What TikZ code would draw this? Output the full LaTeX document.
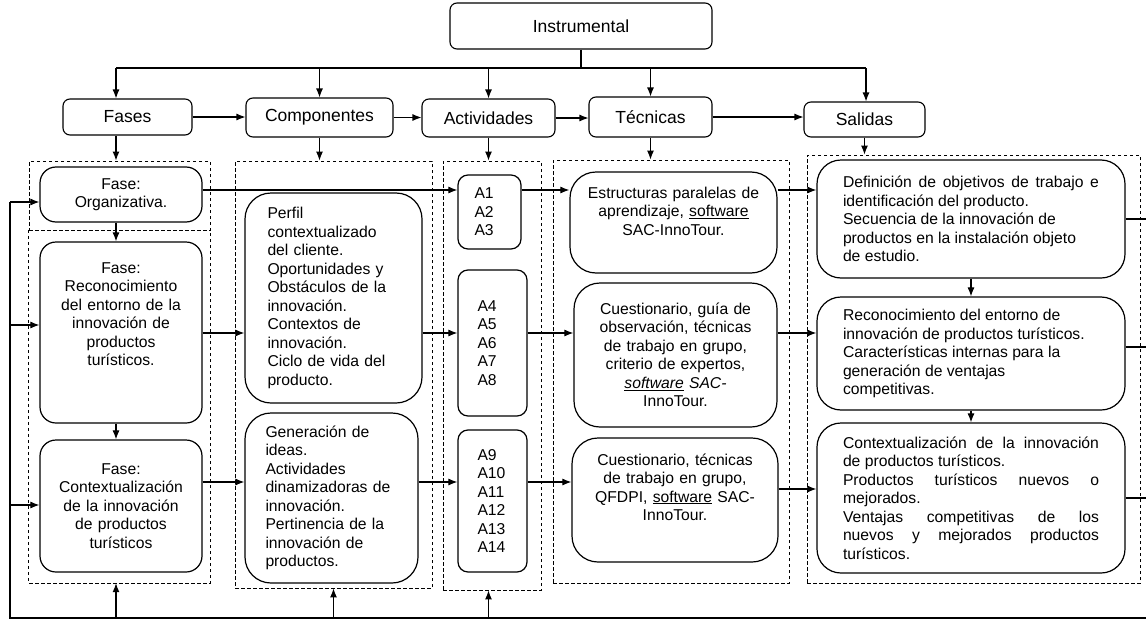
\documentclass[tikz,border=0pt]{standalone}
\usepackage{fontspec}
\setmainfont{Liberation Sans}
\usetikzlibrary{arrows.meta}
\tikzset{>={Latex[length=9pt,width=7pt]}}
\newcommand{\txtfont}{\fontsize{15.7}{18.5}\selectfont}
\newcommand{\headfont}{\fontsize{17.5}{20}\selectfont}
\tikzset{
  head/.style={draw, line width=1.1pt, rounded corners=7pt, font=\headfont, inner sep=0pt},
  box/.style={draw, line width=1.2pt, rounded corners=#1, font=\txtfont, inner sep=0pt},
  box/.default=16pt,
  dashline/.style={line width=0.9pt, dash pattern=on 3.5pt off 2.5pt},
  grp/.style={draw, dashline, inner sep=0pt},
  sz/.style 2 args={minimum width=#1, minimum height=#2},
  conn/.style={->, line width=1.1pt},
  wire/.style={line width=1.1pt}
}

\begin{document}
\begin{tikzpicture}[x=1pt, y=-1pt]
\useasboundingbox (0,0) rectangle (1146,621);

\node[head, sz={262pt}{46pt}] (instr) at (581,26) {Instrumental};
\node[head, sz={129pt}{36pt}] (fases) at (127.5,117) {Fases};
\node[head, sz={147pt}{39pt}] (comp) at (319.5,117.5) {Componentes};
\node[head, sz={133pt}{38pt}] (activ) at (488.5,118) {Actividades};
\node[head, sz={123pt}{40pt}] (tecn) at (650.5,117) {Técnicas};
\node[head, sz={121pt}{35pt}] (salid) at (864.5,119.5) {Salidas};

\node[grp, sz={181pt}{69pt}] (gOrg) at (119.5,195.5) {};
\node[inner sep=0pt, sz={181pt}{353pt}] (gFas) at (119.5,406.5) {};
\draw[dashline] (gFas.north west) -- (gFas.south west) -- (gFas.south east) -- (gFas.north east);
\node[grp, sz={197pt}{427pt}] (gComp) at (333.5,374.5) {};
\node[grp, sz={98pt}{429pt}] (gAct) at (492,375.5) {};
\node[grp, sz={236pt}{423pt}] (gTec) at (671,371.5) {};
\node[grp, sz={333pt}{428pt}] (gSal) at (973.5,369) {};

\node[box, sz={162pt}{55pt}, align=center, text width=150pt] (org) at (121,194.5) {Fase:\\Organizativa.};
\node[box, sz={162pt}{181pt}, align=center, text width=150pt, text height=31pt, text depth=150pt] (recon) at (121,332.5) {Fase:\\Reconocimiento\\del entorno de la\\innovación de\\productos\\turísticos.};
\node[box, sz={162pt}{132pt}, align=center, text width=150pt] (ctx) at (121,506) {Fase:\\Contextualización\\de la innovación\\de productos\\turísticos};

\node[box=26pt, sz={177pt}{210pt}, align=left, text width=132pt] (perfil) at (333.5,298) {Perfil\\contextualizado\\del cliente.\\Oportunidades y\\Obstáculos de la\\innovación.\\Contextos de\\innovación.\\Ciclo de vida del\\producto.};
\node[box=26pt, sz={173pt}{170pt}, align=left, text width=132pt] (gener) at (331.5,498) {Generación de\\ideas.\\Actividades\\dinamizadoras de\\innovación.\\Pertinencia de la\\innovación de\\productos.};

\node[box=10pt, sz={63pt}{74pt}, align=left, text width=30pt] (a1) at (489.5,212) {A1\\A2\\A3};
\node[box=10pt, sz={69pt}{146pt}, align=left, text width=30pt] (a4) at (492.5,343) {A4\\A5\\A6\\A7\\A8};
\node[box=10pt, sz={69pt}{142pt}, align=left, text width=30pt] (a9) at (492.5,501) {A9\\A10\\A11\\A12\\A13\\A14};

\node[box=26pt, sz={207pt}{101pt}, align=center, text width=195pt, text height=26pt, text depth=75pt] (est) at (673.5,222.5) {Estructuras paralelas de\\aprendizaje, \underline{software}\\SAC-InnoTour.};
\node[box=26pt, sz={203pt}{144pt}, align=center, text width=195pt] (cue1) at (675.5,355) {Cuestionario, guía de\\observación, técnicas\\de trabajo en grupo,\\criterio de expertos,\\\underline{\textit{software}} \textit{SAC-}\\InnoTour.};
\node[box=26pt, sz={206pt}{124pt}, align=center, text width=195pt, text height=27pt, text depth=97pt] (cue2) at (675,500) {Cuestionario, técnicas\\de trabajo en grupo,\\QFDPI, \underline{software} SAC-\\InnoTour.};

\node[box=24pt, sz={308pt}{118pt}, align=justify, text width=256pt] (def) at (971,219) {Definición de objetivos de trabajo e\linebreak identificación del producto.\\Secuencia de la innovación de\\productos en la instalación objeto\\de estudio.};
\node[box=24pt, sz={308pt}{113pt}, align=justify, text width=256pt] (recs) at (971,353.5) {Reconocimiento del entorno de\\innovación de productos turísticos.\\Características internas para la\\generación de ventajas\\competitivas.};
\node[box=24pt, sz={308pt}{150pt}, align=justify, text width=256pt] (ctxs) at (971,498) {Contextualización de la innovación\linebreak de productos turísticos.\\Productos turísticos nuevos o\linebreak mejorados.\\Ventajas competitivas de los\linebreak nuevos y mejorados productos\linebreak turísticos.};

\coordinate (busL) at (116,68);
\coordinate (busR) at (866,68);
\coordinate (fbT) at (10,202);
\coordinate (fb2) at (10,325);
\coordinate (fb3) at (10,505);
\coordinate (fb) at (10,618);
\coordinate (fbR) at (1146,618);
\coordinate (row1) at (0,190);
\coordinate (row2) at (0,333);
\coordinate (row3) at (0,482);
\coordinate (row4) at (0,489);
\coordinate (row5) at (0,347);

\draw[wire] (instr.south) -- (instr.south |- busL);
\draw[wire] (busL) -- (busR);
\draw[conn] (busL) -- (busL |- fases.north);
\draw[conn] (busL -| comp.north) -- (comp.north);
\draw[conn] (busL -| activ.north) -- (activ.north);
\draw[conn] (busL -| tecn.north) -- (tecn.north);
\draw[conn] (busR) -- (busR |- salid.north);

\draw[conn] (fases.east) -- (fases.east -| comp.west);
\draw[conn] (comp.east) -- (comp.east -| activ.west);
\draw[conn] (activ.east) -- (activ.east -| tecn.west);
\draw[conn] (tecn.east) -- (tecn.east -| salid.west);

\draw[conn] (busL |- fases.south) -- (busL |- gOrg.north);
\draw[conn] (comp.south) -- (comp.south |- gComp.north);
\draw[conn] (activ.south) -- (activ.south |- gAct.north);
\draw[conn] (tecn.south) -- (tecn.south |- gTec.north);
\draw[conn] (salid.south) -- (salid.south |- gSal.north);

\draw[conn] (busL |- org.south) -- (busL |- recon.north);
\draw[conn] (busL |- recon.south) -- (busL |- ctx.north);
\draw[conn] (def.south) -- (recs.north);
\draw[conn] (recs.south) -- (ctxs.north);

\draw[conn] (org.east |- row1) -- (a1.west |- row1);
\draw[conn] (a1.east |- row1) -- (est.west |- row1);
\draw[conn] (est.east |- row1) -- (def.west |- row1);
\draw[conn] (recon.east |- row2) -- (perfil.west |- row2);
\draw[conn] (perfil.east |- row2) -- (a4.west |- row2);
\draw[conn] (a4.east |- row2) -- (cue1.west |- row2);
\draw[conn] (cue1.east |- row2) -- (recs.west |- row2);
\draw[conn] (ctx.east |- row3) -- (gener.west |- row3);
\draw[conn] (gener.east |- row3) -- (a9.west |- row3);
\draw[conn] (a9.east |- row3) -- (cue2.west |- row3);
\draw[conn] (cue2.east |- row4) -- (ctxs.west |- row4);

\draw[wire] (fbT) -- (fb) -- (fbR);
\draw[conn] (fbT) -- (fbT -| org.west);
\draw[conn] (fb2) -- (fb2 -| recon.west);
\draw[conn] (fb3) -- (fb3 -| ctx.west);
\draw[conn] (fb -| busL) -- (busL |- gFas.south);
\draw[conn] (fb -| gComp.south) -- (gComp.south);
\draw[conn] (fb -| activ.south) -- (activ.south |- gAct.south);

\draw[wire] (def.east) -- (def.east -| fbR);
\draw[wire] (recs.east |- row5) -- (fbR |- row5);
\draw[wire] (ctxs.east) -- (ctxs.east -| fbR);
\end{tikzpicture}
\end{document}
